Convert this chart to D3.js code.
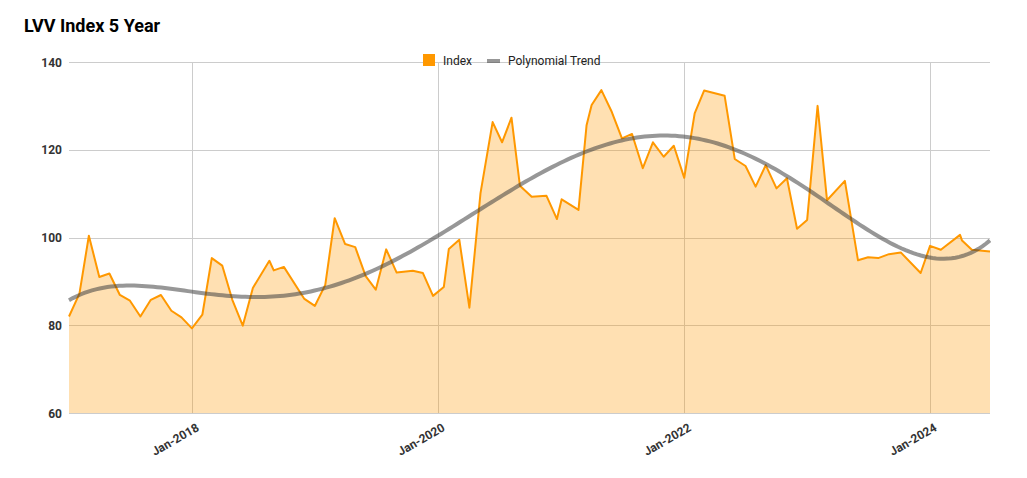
<!DOCTYPE html>
<html>
<head>
<meta charset="utf-8">
<script src="https://cdn.jsdelivr.net/npm/d3@7"></script>
<style>
  html, body { margin: 0; padding: 0; background: #fff; }
  svg { display: block; font-family: Roboto, "Noto Sans", Arial, sans-serif; }
</style>
</head>
<body>
<svg id="chart" width="1027" height="478"></svg>
<script>
const chartTitle = "LVV Index 5 Year";
const seriesNames = ["Index", "Polynomial Trend"];

const indexDates = [
  "2017-01-01","2017-02-01","2017-03-01","2017-04-01","2017-05-01","2017-06-01",
  "2017-07-01","2017-08-01","2017-09-01","2017-10-01","2017-11-01","2017-12-01",
  "2018-01-01","2018-02-01","2018-03-01","2018-04-01","2018-05-01","2018-06-01",
  "2018-07-01","2018-08-19","2018-09-01","2018-10-01","2018-12-01",
  "2019-01-01","2019-02-01","2019-03-01","2019-04-01","2019-05-01","2019-06-01",
  "2019-07-01","2019-08-01","2019-09-01","2019-10-19","2019-11-18","2019-12-18",
  "2020-01-19","2020-02-03","2020-03-05","2020-04-04","2020-05-07","2020-06-12",
  "2020-07-10","2020-08-07","2020-09-01","2020-10-06","2020-11-19","2020-12-20",
  "2021-01-03","2021-02-22","2021-03-18","2021-04-02","2021-05-01","2021-06-01",
  "2021-07-01","2021-07-31","2021-09-01","2021-10-01","2021-11-02","2021-12-02",
  "2022-01-02","2022-02-02","2022-03-02","2022-05-02","2022-06-01","2022-07-03",
  "2022-08-02","2022-09-01","2022-10-03","2022-11-03","2022-12-03",
  "2023-01-02","2023-02-02","2023-03-02","2023-04-24","2023-06-02","2023-07-02",
  "2023-08-01","2023-09-02","2023-10-07","2023-12-05",
  "2024-01-02","2024-02-03","2024-03-31","2024-04-06","2024-05-05","2024-06-28"
];
const indexValues = [
  82.0, 87.2, 100.4, 91.0, 91.8, 86.9,
  85.6, 82.0, 85.8, 86.9, 83.3, 81.8,
  79.3, 82.4, 95.3, 93.6, 85.8, 79.9,
  88.5, 94.7, 92.5, 93.3, 86.0,
  84.4, 89.2, 104.4, 98.5, 97.8, 91.2,
  88.1, 97.3, 92.0, 92.4, 91.9, 86.7,
  88.7, 97.4, 99.5, 84.0, 110.1, 126.3,
  121.7, 127.3, 111.8, 109.3, 109.5, 104.2,
  108.7, 106.3, 125.6, 130.2, 133.6, 128.6,
  122.6, 123.6, 115.8, 121.7, 118.4, 120.9,
  113.6, 128.3, 133.5, 132.3, 117.9, 116.3,
  111.6, 116.5, 111.2, 113.5, 102.0,
  104.0, 130.0, 108.5, 112.9, 94.8, 95.5,
  95.3, 96.2, 96.6, 91.9,
  98.1, 97.2, 100.6, 99.3, 97.2, 96.8
];

// Polynomial trend readings (values of the trend curve at these dates)
const trendDates = [
  "2017-01-01","2017-04-01","2017-08-01","2018-01-01","2018-07-01","2019-01-01",
  "2019-07-01","2020-01-01","2020-07-01","2021-01-01","2021-07-01","2022-01-01",
  "2022-07-01","2023-01-01","2023-04-01","2023-07-01","2023-10-01","2024-01-01","2024-03-01","2024-06-28"
];
const trendValues = [
  85.8, 88.2, 89.0, 87.7, 86.6, 87.6,
  93.0, 100.3, 109.0, 117.1, 122.2, 123.0,
  119.0, 111.3, 106.4, 101.6, 97.6, 95.4, 95.6, 99.2
];
const trendDegree = 6;

const yTicks = [60, 80, 100, 120, 140];
const xTickDates = ["2018-01-01", "2020-01-01", "2022-01-01", "2024-01-01"];
const xTickLabels = ["Jan-2018", "Jan-2020", "Jan-2022", "Jan-2024"];

const parse = d3.timeParse("%Y-%m-%d");
const data = indexDates.map((d, i) => ({ date: parse(d), value: indexValues[i] }));
const trendPts = trendDates.map((d, i) => ({ date: parse(d), value: trendValues[i] }));

const svg = d3.select("#chart");
const plot = { left: 69, right: 990, top: 62, bottom: 413 };

const xDomain = d3.extent(data, d => d.date);
const x = d3.scaleTime().domain(xDomain).range([plot.left, plot.right]);
const y = d3.scaleLinear().domain([60, 140]).range([plot.bottom, plot.top]);

// least-squares polynomial fit through the trend readings
const t0 = +xDomain[0], t1 = +xDomain[1];
const norm = t => ((+t - t0) / (t1 - t0)) * 2 - 1;
function polyFit(xs, ys, deg) {
  const n = deg + 1;
  const A = Array.from({ length: n }, () => new Array(n + 1).fill(0));
  xs.forEach((xv, k) => {
    const pw = [];
    for (let i = 0; i < 2 * n; i++) pw.push(Math.pow(xv, i));
    for (let i = 0; i < n; i++) {
      for (let j = 0; j < n; j++) A[i][j] += pw[i + j];
      A[i][n] += pw[i] * ys[k];
    }
  });
  for (let c = 0; c < n; c++) {
    let p = c;
    for (let r = c + 1; r < n; r++) if (Math.abs(A[r][c]) > Math.abs(A[p][c])) p = r;
    [A[c], A[p]] = [A[p], A[c]];
    for (let r = 0; r < n; r++) {
      if (r === c) continue;
      const f = A[r][c] / A[c][c];
      for (let j = c; j <= n; j++) A[r][j] -= f * A[c][j];
    }
  }
  return A.map((row, i) => row[n] / row[i]);
}
const coef = polyFit(trendPts.map(d => norm(d.date)), trendPts.map(d => d.value), trendDegree);
const evalPoly = u => coef.reduce((s, c, i) => s + c * Math.pow(u, i), 0);
const trendCurve = d3.range(0, 241).map(i => {
  const t = new Date(t0 + (t1 - t0) * i / 240);
  return { date: t, value: evalPoly(norm(t)) };
});

// Title
svg.append("text")
  .attr("x", 24).attr("y", 32)
  .attr("font-size", 18).attr("font-weight", "bold").attr("fill", "#000")
  .text(chartTitle);

// Horizontal grid
svg.append("g").selectAll("line").data(yTicks).join("line")
  .attr("x1", plot.left).attr("x2", plot.right)
  .attr("y1", d => Math.round(y(d)) + 0.5).attr("y2", d => Math.round(y(d)) + 0.5)
  .attr("stroke", "#cccccc").attr("stroke-width", 1);

// Vertical grid
const xTicks = xTickDates.map(parse);
svg.append("g").selectAll("line").data(xTicks).join("line")
  .attr("x1", d => Math.round(x(d)) + 0.5).attr("x2", d => Math.round(x(d)) + 0.5)
  .attr("y1", plot.top).attr("y2", plot.bottom)
  .attr("stroke", "#cccccc").attr("stroke-width", 1);

// Y labels
svg.append("g").selectAll("text").data(yTicks).join("text")
  .attr("x", plot.left - 7).attr("y", d => y(d) + 4.5)
  .attr("text-anchor", "end").attr("font-size", 12).attr("font-weight", "bold")
  .attr("fill", "#333").text(d => d);

// X labels
svg.append("g").selectAll("text").data(xTicks).join("text")
  .attr("text-anchor", "end").attr("font-size", 12).attr("font-weight", "bold")
  .attr("fill", "#333")
  .attr("transform", d => `translate(${x(d) + 8},${plot.bottom + 17}) rotate(-30)`)
  .text((d, i) => xTickLabels[i]);

// Area
const area = d3.area().x(d => x(d.date)).y0(y(60)).y1(d => y(d.value));
svg.append("path").datum(data)
  .attr("d", area).attr("fill", "#ff9800").attr("fill-opacity", 0.3);

// Line
const line = d3.line().x(d => x(d.date)).y(d => y(d.value));
svg.append("path").datum(data)
  .attr("d", line).attr("fill", "none").attr("stroke", "#ff9800")
  .attr("stroke-width", 2).attr("stroke-linejoin", "round");

// Trend
const trendLine = d3.line().x(d => x(d.date)).y(d => y(d.value));
svg.append("path").datum(trendCurve)
  .attr("d", trendLine).attr("fill", "none").attr("stroke", "#424242")
  .attr("stroke-opacity", 0.55).attr("stroke-width", 4);

// Legend
const lg = svg.append("g").attr("font-size", 12).attr("fill", "#222");
lg.append("rect").attr("x", 423).attr("y", 54).attr("width", 12).attr("height", 12)
  .attr("fill", "#ff9800");
lg.append("text").attr("x", 443).attr("y", 65).attr("fill", "#222").text(seriesNames[0]);
lg.append("line").attr("x1", 487).attr("x2", 500).attr("y1", 61).attr("y2", 61)
  .attr("stroke", "#424242").attr("stroke-opacity", 0.55).attr("stroke-width", 4);
lg.append("text").attr("x", 508).attr("y", 65).attr("fill", "#222").text(seriesNames[1]);
</script>
</body>
</html>
